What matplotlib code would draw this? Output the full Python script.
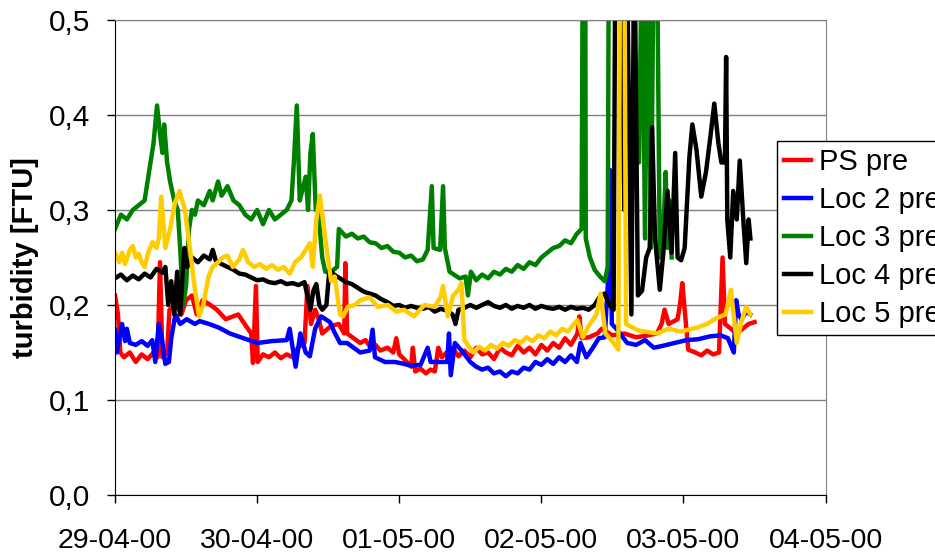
import datetime as dt
import numpy as np
import matplotlib
matplotlib.use('Agg')
from matplotlib import pyplot as plt
import matplotlib.dates as mdates
from matplotlib.ticker import FuncFormatter, MultipleLocator

plt.rcParams['font.family'] = ['Liberation Sans', 'DejaVu Sans']

start = dt.datetime(2000, 4, 29)

# hours since 29-04-00 00:00 and turbidity [FTU]
ps_h = [0, 0.5, 0.9, 1.5, 2.5, 3.5, 4.5, 5.5, 6.5, 7.2,
        7.6, 8, 8.8, 9.2, 10.3, 11.2, 12, 13, 13.8, 14.8,
        16.1, 17.2, 18.7, 20.8, 22.1, 23, 23.3, 23.8, 24.1, 25,
        26, 27, 28, 29, 30, 30.9, 32, 32.5, 33.1, 33.8,
        34.4, 35, 36.5, 37.8, 38.7, 38.9, 39.2, 40.3, 41.4, 42.3,
        43.1, 44, 44.8, 46, 47, 47.5, 48, 49, 50, 50.3,
        50.7, 51.6, 52.5, 53.3, 54, 54.6, 55.2, 56, 57, 58,
        59, 60, 61, 62, 63, 64, 65, 66, 67, 68,
        69, 70, 71, 72, 73, 74, 75, 76, 77, 78.1,
        78.4, 78.8, 80, 81.5, 82.2, 84, 86, 88, 90, 91.5,
        92.3, 92.8, 93.5, 95, 95.4, 95.8, 96.2, 96.8, 98, 99,
        100, 101, 102, 102.6, 103, 104, 105, 106, 107, 108]
ps_v = [0.21, 0.19, 0.15, 0.145, 0.15, 0.14, 0.148, 0.143, 0.15, 0.145,
        0.245, 0.145, 0.15, 0.195, 0.2, 0.19, 0.205, 0.21, 0.19, 0.205,
        0.2, 0.195, 0.185, 0.19, 0.178, 0.17, 0.139, 0.22, 0.14, 0.148,
        0.145, 0.15, 0.144, 0.148, 0.145, 0.155, 0.16, 0.22, 0.18, 0.195,
        0.185, 0.17, 0.178, 0.18, 0.17, 0.244, 0.17, 0.165, 0.16, 0.163,
        0.156, 0.158, 0.152, 0.155, 0.15, 0.165, 0.148, 0.142, 0.135, 0.155,
        0.13, 0.133, 0.128, 0.132, 0.13, 0.155, 0.145, 0.15, 0.155, 0.146,
        0.152, 0.145, 0.155, 0.148, 0.15, 0.143, 0.155, 0.15, 0.147, 0.157,
        0.15, 0.155, 0.148, 0.158, 0.152, 0.16, 0.155, 0.165, 0.158, 0.17,
        0.188, 0.165, 0.166, 0.17, 0.175, 0.168, 0.17, 0.166, 0.168, 0.17,
        0.18, 0.195, 0.18, 0.185, 0.2, 0.223, 0.195, 0.153, 0.15, 0.147,
        0.152, 0.148, 0.15, 0.25, 0.18, 0.175, 0.17, 0.175, 0.18, 0.182]

loc2_h = [0, 0.3, 1.2, 1.7, 2, 2.5, 3.5, 4.5, 5.5, 6.3,
          6.8, 7.4, 7.9, 8.5, 9.1, 9.5, 10.2, 11, 12.1, 13.5,
          14.3, 15.9, 17.6, 19.4, 21.7, 24.1, 26.5, 29, 29.5, 30.5,
          31.3, 32.2, 32.9, 33.8, 34.8, 36.3, 37, 38, 39.2, 41.4,
          43, 43.5, 43.9, 45.6, 47.3, 48.8, 50, 51.6, 52.8, 53.3,
          55, 56.1, 56.4, 56.7, 57.4, 58.8, 60, 61, 62, 63,
          64, 65, 66, 67, 68, 69, 70, 71, 72, 73,
          74, 75, 76, 77, 78, 78.6, 79.6, 80.7, 81.7, 82.7,
          83.3, 83.6, 83.9, 84.8, 85.5, 86.5, 88, 89.5, 91, 92.5,
          94.5, 96.5, 98.5, 100.5, 102.3, 103.5, 104.5, 104.9, 105.3, 105.8,
          106.6, 107.3]
loc2_v = [0.174, 0.15, 0.18, 0.162, 0.175, 0.16, 0.158, 0.162, 0.157, 0.163,
          0.14, 0.18, 0.165, 0.138, 0.14, 0.165, 0.19, 0.18, 0.185, 0.18,
          0.183, 0.18, 0.176, 0.17, 0.165, 0.16, 0.162, 0.163, 0.175, 0.135,
          0.17, 0.15, 0.146, 0.175, 0.188, 0.182, 0.172, 0.16, 0.16, 0.15,
          0.152, 0.174, 0.145, 0.14, 0.14, 0.138, 0.136, 0.137, 0.155, 0.14,
          0.14, 0.14, 0.17, 0.126, 0.16, 0.15, 0.14, 0.135, 0.132, 0.134,
          0.128, 0.13, 0.125, 0.13, 0.128, 0.134, 0.132, 0.14, 0.137, 0.143,
          0.138, 0.145, 0.14, 0.147, 0.14, 0.16, 0.145, 0.155, 0.165, 0.166,
          0.23, 0.342, 0.18, 0.174, 0.168, 0.16, 0.158, 0.163, 0.155, 0.157,
          0.16, 0.163, 0.164, 0.167, 0.168, 0.165, 0.15, 0.205, 0.19, 0.185,
          0.193, 0.19]

loc3_h = [0, 1, 2, 3, 4, 5, 5.5, 6, 6.5, 7.1,
          7.6, 8, 8.3, 8.8, 9.3, 10, 10.6, 11, 11.5, 12,
          12.5, 13, 13.5, 14, 15, 16, 16.5, 17.4, 18, 19,
          20, 21, 22, 23, 24, 25, 26, 27, 28, 29,
          29.8, 30.2, 30.7, 31.2, 31.6, 32.2, 32.6, 33, 33.4, 33.9,
          34.3, 35, 35.5, 36.5, 37.5, 37.8, 39, 40, 41, 42,
          43, 44, 45, 46, 47, 48, 49, 50, 51, 52,
          52.8, 53.5, 53.8, 54.9, 55.4, 55.7, 56.5, 58.2, 59.2, 59.6,
          60.1, 61, 62, 63, 64, 65, 66, 67, 68, 69,
          70, 71, 72, 73, 74, 75, 76, 77, 78, 78.8,
          79, 79.4, 79.5, 80.2, 81, 81.9, 82.7, 83.2, 83.4, 83.7,
          84, 84.5, 85, 87, 88.5, 89, 89.5, 90, 90.5, 91,
          91.5, 92, 92.6, 93, 93.3, 93.6, 94]
loc3_v = [0.28, 0.295, 0.29, 0.3, 0.305, 0.31, 0.33, 0.35, 0.37, 0.41,
          0.38, 0.36, 0.39, 0.35, 0.33, 0.31, 0.3, 0.26, 0.2, 0.22,
          0.28, 0.3, 0.295, 0.31, 0.305, 0.32, 0.31, 0.33, 0.315, 0.325,
          0.31, 0.305, 0.295, 0.29, 0.3, 0.285, 0.3, 0.29, 0.295, 0.3,
          0.31, 0.35, 0.41, 0.31, 0.32, 0.335, 0.3, 0.36, 0.38, 0.3,
          0.3, 0.25, 0.235, 0.235, 0.24, 0.28, 0.272, 0.275, 0.27, 0.272,
          0.266, 0.265, 0.26, 0.262, 0.256, 0.255, 0.25, 0.252, 0.246, 0.248,
          0.258, 0.325, 0.26, 0.258, 0.325, 0.26, 0.235, 0.228, 0.23, 0.21,
          0.235, 0.226, 0.232, 0.228, 0.235, 0.232, 0.238, 0.235, 0.242, 0.238,
          0.245, 0.242, 0.25, 0.255, 0.26, 0.262, 0.268, 0.265, 0.275, 0.28,
          0.6, 0.6, 0.27, 0.25, 0.237, 0.23, 0.225, 0.24, 0.6, 0.6,
          0.6, 0.6, 0.6, 0.6, 0.35, 0.6, 0.27, 0.6, 0.26, 0.6,
          0.6, 0.25, 0.28, 0.34, 0.26, 0.31, 0.25]

loc4_h = [0, 1, 2, 3, 4, 5, 6, 7, 8, 8.5, 9, 9.5, 10, 10.5, 11, 11.7, 12.2, 13, 14, 15, 16, 16.5, 17, 18, 19,
          20, 21, 22, 23, 24, 25, 26, 27, 28, 29, 30, 31, 32, 33, 33.5, 34, 34.5, 35, 35.7, 36.2, 37, 38, 39,
          40, 41, 42, 43, 44, 45, 46, 47, 48, 49, 50, 51, 52, 53, 54, 55, 56, 57, 57.5, 58, 59, 60, 61, 62,
          63, 64, 65, 66, 67, 68, 69, 70, 71, 72, 73, 74, 75, 76, 77, 78, 79, 80, 81, 82, 82.7, 83.5, 84.2,
          84.5, 85.5, 86, 86.4, 87.2, 87.7, 88.3, 89, 89.7, 90.3, 90.7, 91.2, 92, 92.6, 93.3, 94, 94.6, 95,
          95.6, 96.2, 97, 97.5, 98.2, 99, 99.8, 100.6, 101.2, 101.9, 102.4, 103, 103.2, 103.4, 103.9, 104.4,
          105, 105.5, 106.1, 106.6, 107, 107.3]
loc4_v = [0.228, 0.232, 0.226, 0.231, 0.227, 0.233, 0.229, 0.238, 0.234, 0.24, 0.2, 0.225, 0.19, 0.235, 0.19,
          0.26, 0.24, 0.25, 0.245, 0.252, 0.248, 0.258, 0.247, 0.243, 0.24, 0.237, 0.233, 0.232, 0.229, 0.226,
          0.227, 0.224, 0.223, 0.225, 0.222, 0.223, 0.221, 0.224, 0.195, 0.215, 0.222, 0.2, 0.195, 0.2, 0.237,
          0.232, 0.228, 0.224, 0.222, 0.218, 0.214, 0.212, 0.21, 0.206, 0.203, 0.199, 0.2, 0.197, 0.199, 0.197,
          0.196, 0.198, 0.193, 0.196, 0.194, 0.19, 0.18, 0.195, 0.197, 0.2, 0.197, 0.2, 0.203, 0.199, 0.197,
          0.2, 0.196, 0.199, 0.197, 0.2, 0.196, 0.199, 0.197, 0.196, 0.198, 0.195, 0.198, 0.196, 0.197, 0.195,
          0.2, 0.21, 0.212, 0.2, 0.195, 0.6, 0.6, 0.3, 0.6, 0.19, 0.6, 0.21, 0.215, 0.25, 0.26, 0.387, 0.27,
          0.216, 0.255, 0.32, 0.255, 0.36, 0.25, 0.247, 0.26, 0.356, 0.39, 0.363, 0.314, 0.34, 0.38, 0.412,
          0.37, 0.35, 0.35, 0.461, 0.29, 0.25, 0.32, 0.29, 0.352, 0.29, 0.244, 0.29, 0.27]

loc5_h = [0, 0.7, 1.2, 1.7, 2.5, 3, 3.5, 4, 4.5, 5,
          5.6, 6.3, 7, 7.4, 7.8, 8.5, 9.3, 10.1, 10.9, 11.8,
          12.7, 13.5, 14.2, 14.9, 15.8, 16.5, 17.4, 18.2, 19, 19.9,
          21, 21.6, 22.5, 23.5, 24.5, 25.5, 26.5, 27.5, 28.5, 29.5,
          30.4, 31.4, 32.2, 32.9, 33.4, 34, 34.6, 35.5, 36.5, 37.1,
          38, 38.5, 39.3, 40.5, 41.4, 43, 44.4, 46.1, 47.5, 48.8,
          50.5, 51.5, 52.3, 54, 55, 55.4, 56.2, 57.1, 58, 58.5,
          59, 60.5, 61.5, 62.5, 63.5, 64.5, 65.5, 66.5, 67.5, 68.5,
          69.5, 70.5, 71.5, 72.5, 73.5, 74.5, 75.5, 76.5, 77.5, 78.1,
          79, 80, 81.3, 82, 82.8, 84.2, 85, 85.3, 86, 86.3,
          87.8, 88.5, 91.5, 93.5, 95.5, 98.2, 100, 101.5, 103.1, 104,
          105, 105.8, 106.6, 107.3]
loc5_v = [0.255, 0.245, 0.255, 0.243, 0.258, 0.262, 0.25, 0.254, 0.245, 0.24,
          0.255, 0.266, 0.26, 0.27, 0.314, 0.26, 0.28, 0.307, 0.32, 0.3,
          0.257, 0.216, 0.188, 0.2, 0.23, 0.24, 0.245, 0.25, 0.252, 0.24,
          0.248, 0.258, 0.245, 0.24, 0.243, 0.238, 0.242, 0.237, 0.24, 0.233,
          0.245, 0.25, 0.258, 0.265, 0.24, 0.29, 0.315, 0.27, 0.225, 0.23,
          0.19, 0.188, 0.198, 0.2, 0.205, 0.208, 0.198, 0.2, 0.193, 0.195,
          0.188, 0.195, 0.2, 0.198, 0.209, 0.22, 0.188, 0.21, 0.216, 0.223,
          0.163, 0.15, 0.156, 0.152, 0.158, 0.154, 0.16, 0.157, 0.163, 0.16,
          0.166, 0.162, 0.168, 0.165, 0.172, 0.168, 0.175, 0.172, 0.18, 0.184,
          0.166, 0.178, 0.19, 0.212, 0.17, 0.16, 0.153, 0.6, 0.6, 0.18,
          0.175, 0.173, 0.17, 0.175, 0.172, 0.176, 0.18, 0.186, 0.19, 0.216,
          0.16, 0.183, 0.198, 0.19]

series = [
    ('PS pre', ps_h, ps_v, '#ff0000'),
    ('Loc 2 pre', loc2_h, loc2_v, '#0000ff'),
    ('Loc 3 pre', loc3_h, loc3_v, '#008000'),
    ('Loc 4 pre', loc4_h, loc4_v, '#000000'),
    ('Loc 5 pre', loc5_h, loc5_v, '#ffcc00'),
]

fig = plt.figure(figsize=(9.35, 5.54), dpi=100)
ax = fig.add_axes([0.123, 0.1065, 0.76, 0.8575])

t0 = mdates.date2num(start)
for name, hours, vals, col in series:
    x = t0 + np.array(hours) / 24.0
    ax.plot(x, vals, color=col, lw=3.2, label=name, solid_joinstyle='round')

ax.set_xlim(t0, t0 + 5)
ax.set_ylim(0, 0.5)
ax.xaxis.set_major_locator(mdates.DayLocator())
ax.xaxis.set_major_formatter(mdates.DateFormatter('%d-%m-%y'))
ax.yaxis.set_major_locator(MultipleLocator(0.1))
ax.yaxis.set_major_formatter(FuncFormatter(lambda v, p: f'{v:.1f}'.replace('.', ',')))
ax.grid(axis='y', color='#808080', lw=1)
ax.set_axisbelow(True)
ax.tick_params(length=6, width=1, direction='out')
ax.tick_params(axis='x', labelsize=20.5, pad=18)
ax.tick_params(axis='y', labelsize=21.5, pad=12)
ax.spines['top'].set_color('#808080')
ax.spines['right'].set_color('#808080')

ax.set_ylabel('turbidity [FTU]', fontsize=21, fontweight='bold', labelpad=7)

# legend sits partly outside the figure, as in the original
leg = ax.legend(loc='upper left', bbox_to_anchor=(0.831, 0.7455), bbox_transform=fig.transFigure,
                fontsize=21, frameon=True, fancybox=False, edgecolor='black', framealpha=1,
                handlelength=0.9, handletextpad=0.3, borderpad=0.25, labelspacing=0.34, borderaxespad=0)
leg.get_frame().set_linewidth(1)
for line in leg.get_lines():
    line.set_linewidth(3.2)

fig.savefig('out.png', dpi=100)
